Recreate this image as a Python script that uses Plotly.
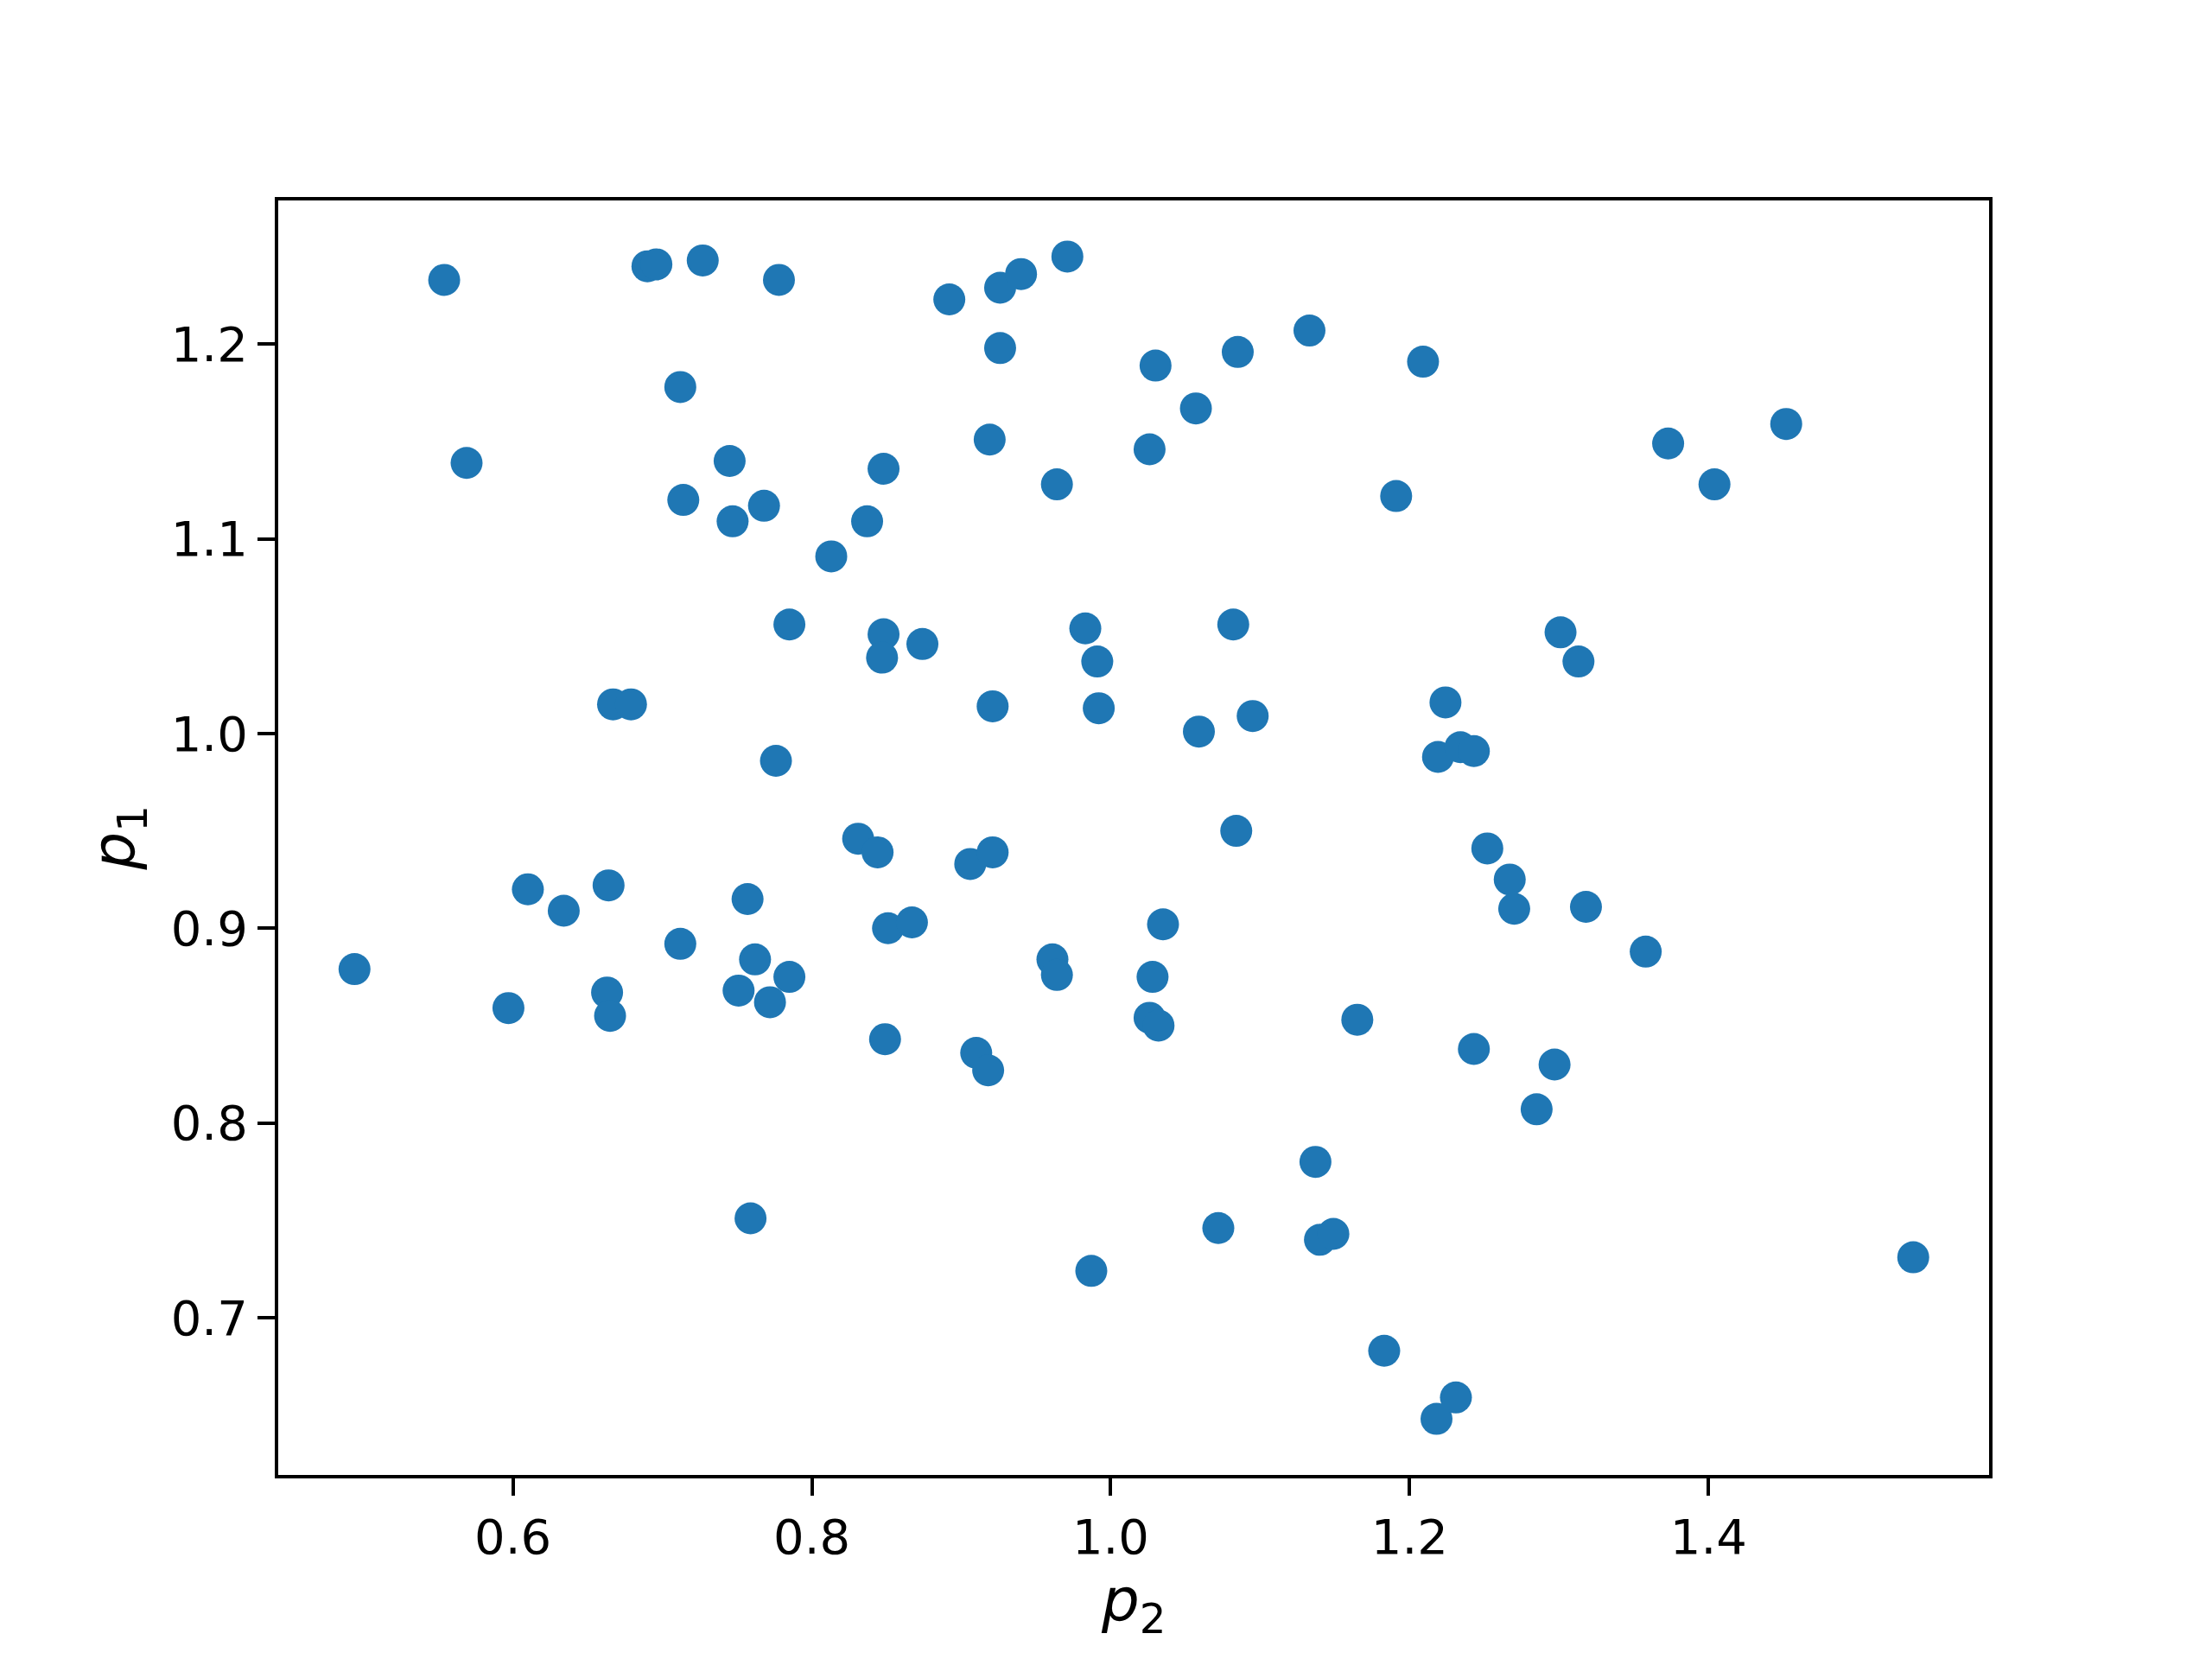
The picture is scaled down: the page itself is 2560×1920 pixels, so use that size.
import plotly.graph_objects as go

# Data (p2 on x, p1 on y)
p2 = [0.554, 0.569, 0.690, 0.696, 0.727, 0.778, 0.712, 0.714, 0.745, 0.747,
      0.768, 0.813, 0.837, 0.848, 0.785, 0.848, 0.847, 0.874, 0.892, 0.926,
      0.940, 0.971, 0.926, 0.919, 0.964, 0.983, 0.991, 0.992, 0.921, 1.030,
      1.026, 1.057, 1.085, 1.133, 1.082, 1.059, 1.095, 1.084, 1.209, 1.191,
      1.224, 1.219, 1.234, 1.243, 1.252, 1.267, 1.270, 1.301, 1.313, 1.318,
      1.373, 1.404, 1.452, 1.358, 0.667, 0.679, 0.776, 0.831, 0.844, 0.906,
      0.921, 0.610, 0.634, 0.664, 0.494, 0.597, 0.663, 0.665, 0.712, 0.757,
      0.762, 0.751, 0.772, 0.785, 0.851, 0.867, 0.849, 0.910, 0.918, 0.961,
      0.964, 1.035, 1.028, 1.026, 1.032, 1.165, 1.243, 1.297, 1.285, 0.759,
      0.987, 1.072, 1.137, 1.140, 1.149, 1.183, 1.218, 1.231, 1.537]

p1 = [1.233, 1.139, 1.240, 1.241, 1.243, 1.233, 1.178, 1.120, 1.140, 1.109,
      1.117, 1.091, 1.109, 1.136, 1.056, 1.051, 1.039, 1.046, 1.223, 1.229,
      1.236, 1.245, 1.198, 1.151, 1.128, 1.054, 1.037, 1.013, 1.014, 1.189,
      1.146, 1.167, 1.196, 1.207, 1.056, 1.001, 1.009, 0.950, 1.191, 1.122,
      1.016, 0.988, 0.993, 0.991, 0.941, 0.925, 0.910, 1.052, 1.037, 0.911,
      1.149, 1.128, 1.159, 0.888, 1.015, 1.015, 0.986, 0.946, 0.939, 0.933,
      0.939, 0.920, 0.909, 0.922, 0.879, 0.859, 0.867, 0.855, 0.892, 0.915,
      0.884, 0.868, 0.862, 0.875, 0.900, 0.903, 0.843, 0.836, 0.827, 0.884,
      0.876, 0.902, 0.875, 0.854, 0.850, 0.853, 0.838, 0.830, 0.807, 0.751,
      0.724, 0.746, 0.780, 0.740, 0.743, 0.683, 0.648, 0.659, 0.731]

x_range = [0.4418, 1.5889]
y_range = [0.6183, 1.2747]
x_title = "<i>p</i><sub>2</sub>"
y_title = "<i>p</i><sub>1</sub>"

fig = go.Figure()
fig.add_trace(go.Scatter(
    x=p2, y=p1, mode="markers",
    marker=dict(size=37, color="#1f77b4", line=dict(width=0)),
    showlegend=False,
))

W, H = 2560, 1920
OFF = 8  # page body margin offset
ml, mr, mt, mb = 320 - OFF, 256 + OFF, 230 - OFF, 211 + OFF
tickfont = dict(family="DejaVu Sans", size=56, color="black")
axis_common = dict(
    showline=False,
    ticks="outside", ticklen=21, tickwidth=4, tickcolor="black",
    showgrid=False, zeroline=False, tickfont=tickfont, tickformat=".1f",
)

fig.update_layout(
    width=W, height=H,
    margin=dict(l=ml, r=mr, t=mt, b=mb, autoexpand=False),
    paper_bgcolor="white", plot_bgcolor="white",
    xaxis=dict(range=x_range, dtick=0.2, tick0=0, **axis_common),
    yaxis=dict(range=y_range, dtick=0.1, tick0=0, **axis_common),
    font=dict(family="DejaVu Sans", color="black"),
)

# axes frame (centered on the plot-area edge, like matplotlib spines)
fig.add_shape(type="rect", xref="paper", yref="paper", x0=0, x1=1, y0=0, y1=1,
              line=dict(color="black", width=4), fillcolor="rgba(0,0,0,0)",
              layer="above")

plot_h = H - mt - mb
plot_w = W - ml - mr
fig.add_annotation(
    text=x_title, xref="paper", yref="paper", x=0.5,
    y=(1709 - 1856) / plot_h, xanchor="center", yanchor="middle",
    showarrow=False, font=dict(family="DejaVu Sans", size=69, color="black"),
)
fig.add_annotation(
    text=y_title, xref="paper", yref="paper", x=(136 - 320) / plot_w,
    y=0.5, xanchor="center", yanchor="middle", textangle=-90,
    showarrow=False, font=dict(family="DejaVu Sans", size=69, color="black"),
)

fig.write_html("out.html")
